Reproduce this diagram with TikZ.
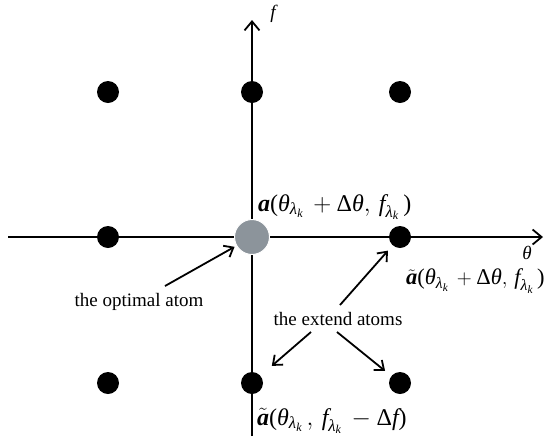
\documentclass[tikz,border=0pt]{standalone}
\usepackage{amsmath}
\usepackage[no-math]{fontspec}
\setmainfont{Liberation Serif}
\usetikzlibrary{arrows.meta}
\definecolor{optgray}{RGB}{140,148,155}
\newcommand{\Th}{\text{\itshape θ}}
\newcommand{\Lm}{\text{\itshape λ}}
\newcommand{\Fv}{\text{\itshape f}}
\newcommand{\Kv}{\text{\itshape k}}
\newcommand{\Dl}{\text{Δ}}
\newcommand{\Av}{\text{\bfseries\itshape a}}
\newcommand{\Lp}{\text{(}}
\newcommand{\Rp}{\text{)}}
\newcommand{\Sub}{_{\Lm_{\Kv}}\,}
\begin{document}
\begin{tikzpicture}[x=1pt,y=-1pt,
  axis/.style={line width=1.8pt,-{Straight Barb[length=9pt,width=15pt,line width=1.8pt]}},
  pointer/.style={line width=1.8pt,-{Straight Barb[length=8pt,width=13pt,line width=1.8pt]}},
  atom/.style={circle,fill=black,minimum size=22pt,inner sep=0pt},
  optatom/.style={circle,fill=optgray,draw=white,line width=1pt,minimum size=35pt,inner sep=0pt},
  lbl/.style={font=\fontsize{19}{22}\selectfont,inner sep=0pt},
  mlbl/.style={font=\fontsize{24}{28}\selectfont,inner sep=0pt,anchor=west}]
\useasboundingbox (0,0) rectangle (560,440);
\coordinate (xl) at (8,237);
\coordinate (xr) at (543,237);
\coordinate (yb) at (252,436);
\coordinate (yt) at (252,20);
\draw[axis] (xl) -- (xr);
\draw[axis] (yb) -- (yt);
\node[atom] (a11) at (108,92) {};
\node[atom] (a12) at (252,92) {};
\node[atom] (a13) at (400,92) {};
\node[atom] (a21) at (108,237) {};
\node[optatom] (opt) at (252,237) {};
\node[atom] (a23) at (400,237) {};
\node[atom] (a31) at (108,383) {};
\node[atom] (a32) at (252,383) {};
\node[atom] (a33) at (400,383) {};
\node[lbl] (flab) at (273,14) {\itshape f};
\node[lbl] (thlab) at (527,253) {\itshape θ};
\node[mlbl] (alab) at (258,207) {$\Av\Lp\Th\Sub+\Dl\Th,\,\Fv\Sub\Rp$};
\node[mlbl,font=\fontsize{22.5}{26}\selectfont] (arlab) at (406,281) {$\tilde{\Av}\Lp\Th\Sub+\Dl\Th,\,\Fv\Sub\Rp$};
\node[mlbl] (ablab) at (257,421) {$\tilde{\Av}\Lp\Th\Sub,\,\Fv\Sub-\Dl\Fv\Rp$};
\node[lbl] (optlab) at (139,302) {the optimal atom};
\node[lbl] (extlab) at (338,319) {the extend atoms};
\coordinate (t1) at (165,286);
\coordinate (t2) at (340,305);
\coordinate (t3) at (311,332);
\coordinate (t4) at (337,332);
\draw[pointer,shorten >=2pt] (t1) -- (opt);
\draw[pointer,shorten >=7pt] (t2) -- (a23);
\draw[pointer,shorten >=15pt] (t3) -- (a32);
\draw[pointer,shorten >=8pt] (t4) -- (a33);
\end{tikzpicture}
\end{document}
